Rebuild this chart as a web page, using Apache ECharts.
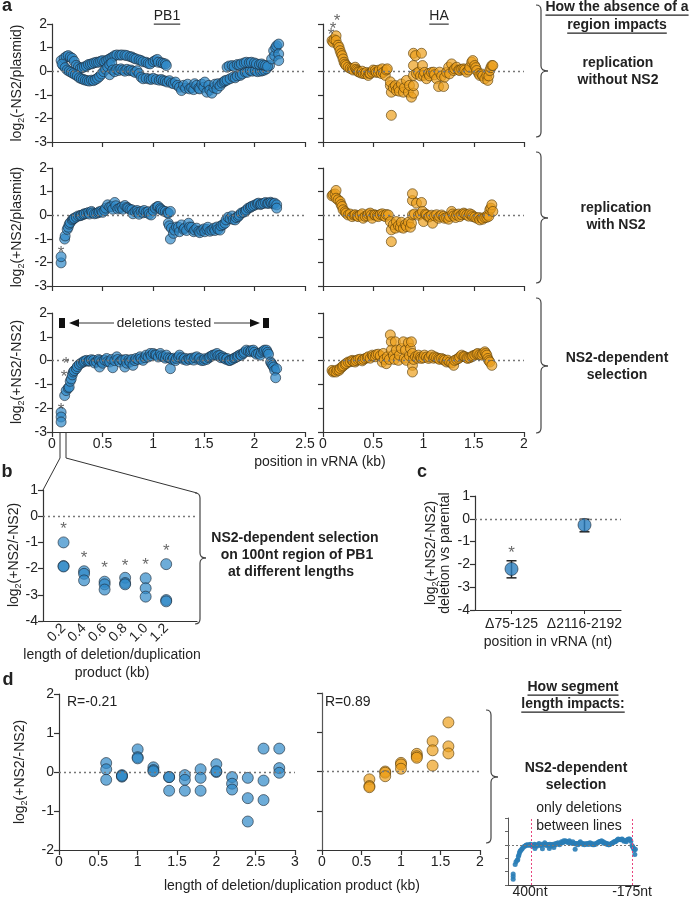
<!DOCTYPE html>
<html><head><meta charset="utf-8">
<script src="https://cdn.jsdelivr.net/npm/echarts@6/dist/echarts.min.js"></script>
<style>html,body{margin:0;padding:0;background:#fff}#c{width:689px;height:899px}</style>
</head><body><div id="c"></div>
<script>
// ---------------- DATA ----------------
// Panel a: position in vRNA (kb) vs log2 ratio
const pb1NoNS2 = [[0.09,0.45],[0.11,0.24],[0.12,0.55],[0.14,0.62],[0.16,0.66],[0.18,0.6],[0.2,0.55],[0.22,0.42],[0.24,0.25],[0.26,0.18],[0.28,0.12],[0.3,0.15],[0.32,0.18],[0.34,0.22],[0.36,0.28],[0.38,0.3],[0.4,0.32],[0.42,0.36],[0.44,0.38],[0.46,0.38],[0.48,0.42],[0.5,0.45],[0.52,0.4],[0.54,0.45],[0.56,0.5],[0.58,0.55],[0.6,0.6],[0.62,0.66],[0.64,0.69],[0.67,0.68],[0.69,0.69],[0.72,0.68],[0.74,0.66],[0.77,0.62],[0.79,0.6],[0.81,0.55],[0.83,0.52],[0.86,0.48],[0.88,0.45],[0.9,0.4],[0.93,0.38],[0.95,0.33],[0.97,0.31],[1.0,0.4],[1.02,0.45],[1.04,0.5],[1.05,0.38],[1.08,0.36],[1.1,0.33],[1.12,0.31],[1.13,0.24],
[0.1,0.3],[0.13,0.15],[0.15,0.05],[0.17,0.0],[0.19,-0.05],[0.21,-0.1],[0.23,-0.15],[0.25,-0.2],[0.27,-0.28],[0.29,-0.32],[0.31,-0.35],[0.33,-0.38],[0.35,-0.4],[0.37,-0.42],[0.39,-0.38],[0.41,-0.4],[0.43,-0.35],[0.45,-0.3],[0.47,-0.22],[0.49,-0.12],[0.51,-0.02],[0.53,0.08],[0.55,0.18],[0.57,0.28],[0.59,0.35],[0.57,-0.15],[0.6,0.05],[0.62,-0.02],[0.64,0.08],[0.66,0.03],[0.68,0.1],[0.7,0.05],[0.72,0.0],[0.74,0.08],[0.76,0.02],[0.78,0.05],[0.8,0.0],[0.82,-0.05],[0.84,0.02],[0.86,-0.1],[0.88,-0.25],[0.9,-0.32],[0.93,-0.3],[0.96,-0.33],[0.98,-0.35],[1.0,-0.3],[1.03,-0.35],[1.06,-0.38],[1.08,-0.35],[1.1,-0.4],[1.12,-0.42],[1.14,-0.46],
[1.16,-0.4],[1.18,-0.5],[1.2,-0.53],[1.22,-0.46],[1.24,-0.6],[1.26,-0.68],[1.28,-0.82],[1.3,-0.6],[1.32,-0.72],[1.34,-0.55],[1.36,-0.75],[1.38,-0.7],[1.4,-0.78],[1.41,-0.53],[1.43,-0.6],[1.45,-0.72],[1.46,-0.75],[1.48,-0.55],[1.5,-0.68],[1.51,-0.46],[1.53,-0.89],[1.55,-0.6],[1.56,-0.8],[1.58,-0.93],[1.6,-0.7],[1.61,-0.55],[1.63,-0.75],[1.64,-0.53],[1.66,-0.62],[1.68,-0.5],[1.7,-0.45],[1.71,-0.4],[1.73,-0.38],[1.76,-0.32],[1.79,-0.25],[1.81,-0.28],[1.83,-0.2],[1.86,-0.18],[1.88,-0.12],[1.91,-0.04],[1.93,-0.05],[1.96,0.03],[1.98,0.0],[2.01,0.02],[2.03,-0.02],[2.06,0.0],[2.08,0.02],[2.1,0.05],[2.12,0.1],[2.15,0.24],
[1.73,0.17],[1.75,0.22],[1.78,0.24],[1.8,0.2],[1.83,0.28],[1.85,0.26],[1.87,0.31],[1.9,0.35],[1.92,0.38],[1.95,0.36],[1.97,0.38],[2.0,0.35],[2.02,0.31],[2.05,0.28],[2.07,0.31],[2.09,0.26],[2.11,0.24],[2.13,0.2],
[2.17,0.52],[2.19,0.87],[2.2,0.66],[2.21,1.0],[2.22,1.08],[2.24,1.15],[2.24,0.73],[2.24,0.45]];

const haNoNS2 = [[0.09,1.3],[0.1,1.23],[0.11,1.35],[0.13,1.5],[0.13,1.3],[0.15,1.1],[0.16,1.01],[0.17,0.87],[0.18,0.75],[0.19,0.66],[0.2,0.52],[0.21,0.38],[0.22,0.3],[0.23,0.24],[0.25,0.17],[0.27,0.12],[0.29,0.1],[0.3,0.05],[0.32,0.17],[0.33,0.08],[0.34,0.03],[0.35,-0.02],[0.36,-0.04],[0.38,-0.08],[0.39,0.0],[0.4,-0.1],[0.42,-0.11],[0.43,-0.05],[0.45,-0.18],[0.46,-0.08],[0.47,-0.1],[0.49,-0.04],[0.5,0.05],[0.52,0.03],[0.53,-0.05],[0.55,-0.04],[0.56,0.05],[0.58,-0.1],[0.59,0.1],[0.6,-0.05],[0.62,-0.18],[0.63,0.05],[0.64,0.1],[0.67,-0.61],[0.67,-0.45],[0.68,-0.89],[0.68,-1.87],[0.7,-0.7],[0.72,-0.61],[0.73,-0.82],[0.75,-0.7],[0.76,-0.85],[0.78,-0.54],[0.8,-0.89],[0.81,-0.7],[0.83,-0.39],[0.85,-0.89],[0.86,-0.6],[0.88,-1.1],[0.9,-0.93],[0.9,-0.61],[0.9,-0.18],[0.9,0.24],[0.9,0.76],[0.92,0.66],[0.93,-0.1],[0.95,-0.04],[0.97,-0.2],[0.98,0.76],[0.99,0.24],[1.0,-0.18],[1.01,-0.05],[1.03,-0.32],[1.05,-0.1],[1.06,-0.2],[1.08,-0.05],[1.1,-0.04],[1.11,-0.15],[1.13,-0.32],[1.15,-0.65],[1.16,-0.04],[1.18,-0.2],[1.2,-0.65],[1.21,-0.25],[1.23,-0.05],[1.25,0.17],[1.26,-0.11],[1.28,0.31],[1.3,0.03],[1.31,0.1],[1.33,0.17],[1.35,0.05],[1.36,0.03],[1.38,0.08],[1.4,0.1],[1.41,0.05],[1.43,-0.04],[1.45,0.05],[1.46,0.17],[1.48,0.38],[1.49,0.45],[1.51,0.24],[1.52,0.15],[1.53,0.03],[1.55,-0.1],[1.56,-0.18],[1.58,-0.12],[1.59,-0.2],[1.61,-0.32],[1.63,-0.18],[1.64,-0.39],[1.65,-0.2],[1.66,0.03],[1.67,0.15],[1.68,0.24],[1.69,0.24]];

const pb1WithNS2 = [[0.09,-2.02],[0.09,-1.76],[0.125,-1.01],[0.13,-0.88],[0.15,-0.6],[0.16,-0.51],[0.17,-0.38],[0.18,-0.31],[0.2,-0.2],[0.21,-0.16],[0.22,-0.13],[0.24,-0.08],[0.26,-0.03],[0.28,-0.02],[0.29,0.0],[0.31,0.03],[0.32,0.06],[0.34,0.08],[0.36,0.11],[0.37,0.05],[0.39,0.16],[0.4,0.1],[0.42,0.06],[0.44,0.08],[0.46,0.11],[0.47,0.15],[0.49,0.18],[0.5,0.12],[0.52,0.2],[0.53,0.3],[0.55,0.44],[0.57,0.35],[0.59,0.37],[0.6,0.25],[0.62,0.54],[0.63,0.4],[0.65,0.26],[0.67,0.3],[0.69,0.35],[0.7,0.25],[0.72,0.41],[0.74,0.33],[0.75,0.3],[0.77,0.25],[0.79,0.23],[0.8,0.06],[0.82,0.16],[0.84,0.2],[0.85,0.12],[0.86,0.04],[0.88,0.16],[0.9,0.1],[0.91,0.2],[0.93,0.12],[0.95,0.15],[0.96,0.05],[0.98,0.01],[1.0,0.2],[1.02,0.3],[1.04,0.36],[1.05,0.37],[1.07,0.28],[1.08,0.23],[1.1,0.18],[1.12,0.16],[1.14,0.1],[1.15,0.09],[1.17,0.16],
[1.15,-0.34],[1.16,-0.45],[1.17,-1.01],[1.18,-0.55],[1.2,-0.77],[1.21,-0.63],[1.23,-0.5],[1.25,-0.51],[1.26,-0.7],[1.28,-0.41],[1.3,-0.6],[1.31,-0.55],[1.33,-0.65],[1.35,-0.34],[1.36,-0.5],[1.38,-0.51],[1.4,-0.7],[1.41,-0.63],[1.43,-0.55],[1.45,-0.68],[1.46,-0.74],[1.48,-0.65],[1.5,-0.58],[1.51,-0.7],[1.53,-0.6],[1.54,-0.51],[1.56,-0.68],[1.58,-0.63],[1.6,-0.55],[1.61,-0.65],[1.63,-0.5],[1.64,-0.6],[1.66,-0.63],[1.67,-0.45],[1.69,-0.4],[1.71,-0.34],[1.72,-0.2],[1.74,-0.09],[1.76,-0.15],[1.78,-0.03],[1.79,-0.18],[1.81,-0.2],[1.82,-0.1],[1.84,-0.06],[1.85,0.0],[1.87,0.09],[1.89,0.12],[1.91,0.16],[1.92,0.22],[1.94,0.3],[1.96,0.33],[1.97,0.37],[1.99,0.4],[2.01,0.44],[2.03,0.48],[2.04,0.51],[2.06,0.45],[2.07,0.48],[2.09,0.5],[2.11,0.54],[2.13,0.5],[2.14,0.51],[2.16,0.55],[2.17,0.51],[2.19,0.48],[2.2,0.51],[2.22,0.44],[2.22,0.3]];

const haWithNS2 = [[0.09,0.82],[0.1,0.87],[0.12,0.9],[0.13,1.05],[0.13,0.72],[0.15,0.65],[0.17,0.58],[0.18,0.45],[0.19,0.37],[0.2,0.23],[0.22,0.15],[0.23,0.09],[0.25,0.01],[0.27,0.05],[0.29,-0.06],[0.31,0.0],[0.32,0.02],[0.34,-0.03],[0.35,-0.06],[0.37,0.0],[0.39,0.06],[0.4,-0.13],[0.42,-0.05],[0.44,-0.03],[0.45,0.05],[0.47,0.09],[0.48,0.0],[0.49,-0.13],[0.51,0.02],[0.52,0.0],[0.54,-0.02],[0.55,-0.06],[0.57,0.03],[0.59,0.06],[0.6,-0.02],[0.62,-0.06],[0.63,0.03],[0.65,0.01],[0.67,-0.27],[0.68,-0.62],[0.68,-1.12],[0.7,-0.4],[0.72,-0.55],[0.73,-0.27],[0.75,-0.45],[0.77,-0.51],[0.78,-0.3],[0.8,-0.55],[0.82,-0.4],[0.83,-0.48],[0.85,-0.3],[0.87,-0.51],[0.88,-0.34],[0.89,0.01],[0.89,0.62],[0.89,0.91],[0.91,0.05],[0.93,0.51],[0.95,0.0],[0.97,0.05],[0.98,0.54],[0.99,0.16],[1.0,-0.27],[1.02,0.05],[1.03,0.01],[1.05,-0.08],[1.06,-0.06],[1.08,0.0],[1.09,-0.34],[1.11,-0.03],[1.13,0.02],[1.15,-0.13],[1.16,-0.05],[1.18,0.01],[1.2,-0.05],[1.21,-0.13],[1.23,-0.1],[1.25,-0.17],[1.26,-0.05],[1.28,0.16],[1.29,0.05],[1.3,-0.03],[1.32,-0.1],[1.33,0.01],[1.35,0.05],[1.36,-0.06],[1.38,0.02],[1.4,0.09],[1.41,0.05],[1.43,0.01],[1.45,-0.04],[1.46,0.06],[1.48,0.02],[1.49,-0.06],[1.51,-0.08],[1.53,-0.13],[1.55,-0.1],[1.56,-0.2],[1.58,-0.12],[1.59,-0.17],[1.61,-0.1],[1.63,-0.09],[1.64,0.01],[1.65,-0.05],[1.66,0.23],[1.67,0.3],[1.68,0.44],[1.69,0.16]];

const pb1Sel = [[0.09,-2.17],[0.09,-2.37],[0.09,-2.58],[0.125,-1.47],[0.14,-1.26],[0.16,-1.15],[0.17,-1.12],[0.18,-0.87],[0.19,-0.77],[0.2,-0.6],[0.21,-0.48],[0.22,-0.42],[0.24,-0.34],[0.25,-0.25],[0.27,-0.16],[0.29,-0.1],[0.31,-0.06],[0.32,-0.02],[0.34,0.01],[0.36,-0.03],[0.37,-0.01],[0.39,0.04],[0.41,0.01],[0.42,-0.1],[0.44,-0.06],[0.46,0.05],[0.47,0.0],[0.47,-0.27],[0.49,-0.05],[0.5,-0.11],[0.52,0.02],[0.54,0.09],[0.55,-0.04],[0.57,-0.06],[0.59,0.05],[0.6,-0.3],[0.62,0.0],[0.64,0.16],[0.65,0.05],[0.67,-0.06],[0.69,0.03],[0.7,0.01],[0.72,-0.27],[0.73,0.05],[0.74,-0.11],[0.76,0.02],[0.77,-0.06],[0.79,0.05],[0.8,-0.2],[0.82,0.0],[0.83,0.09],[0.85,0.05],[0.87,0.16],[0.88,0.08],[0.9,0.01],[0.92,0.12],[0.93,0.23],[0.95,0.15],[0.97,0.3],[0.98,0.2],[1.0,0.3],[1.02,0.25],[1.03,0.23],[1.05,0.15],[1.07,0.3],[1.08,0.2],[1.1,0.16],[1.12,0.1],[1.13,0.23],[1.15,0.12],[1.17,-0.34],[1.17,0.09],[1.19,0.05],[1.2,0.1],[1.22,0.0],[1.23,0.09],[1.25,0.15],[1.26,0.23],[1.28,0.12],[1.3,0.05],[1.31,0.1],[1.33,0.01],[1.35,0.08],[1.36,0.05],[1.38,0.1],[1.4,0.02],[1.41,0.12],[1.43,0.16],[1.45,0.05],[1.46,0.1],[1.48,0.0],[1.5,0.01],[1.51,0.08],[1.53,0.05],[1.55,0.12],[1.56,0.16],[1.58,0.2],[1.59,0.23],[1.61,0.25],[1.63,0.3],[1.64,0.2],[1.66,0.22],[1.67,0.12],[1.69,0.16],[1.7,0.1],[1.72,0.05],[1.73,0.09],[1.75,0.0],[1.76,0.01],[1.78,0.05],[1.8,0.1],[1.81,0.12],[1.83,0.16],[1.84,0.2],[1.86,0.25],[1.87,0.22],[1.89,0.3],[1.9,0.35],[1.92,0.44],[1.94,0.4],[1.96,0.37],[1.97,0.42],[1.99,0.44],[2.0,0.35],[2.02,0.27],[2.04,0.3],[2.06,0.23],[2.07,0.35],[2.09,0.4],[2.1,0.44],[2.12,0.44],[2.13,0.35],[2.14,0.27],[2.16,-0.06],[2.17,-0.13],[2.18,-0.2],[2.19,-0.27],[2.2,-0.41],[2.22,-0.34],[2.21,-0.72]];

const haSel = [[0.09,-0.41],[0.1,-0.48],[0.11,-0.45],[0.13,-0.48],[0.14,-0.4],[0.16,-0.41],[0.17,-0.33],[0.19,-0.27],[0.2,-0.22],[0.22,-0.16],[0.23,-0.12],[0.25,-0.06],[0.27,-0.05],[0.29,0.01],[0.3,-0.03],[0.32,-0.06],[0.33,0.0],[0.35,0.04],[0.37,0.06],[0.39,-0.01],[0.4,0.05],[0.42,0.09],[0.44,0.12],[0.45,0.16],[0.47,0.1],[0.49,0.23],[0.5,0.18],[0.52,0.16],[0.53,0.25],[0.55,0.27],[0.57,0.2],[0.59,-0.06],[0.6,0.3],[0.61,0.05],[0.63,-0.13],[0.64,0.16],[0.66,0.05],[0.67,1.08],[0.68,0.79],[0.68,0.44],[0.7,0.23],[0.71,0.05],[0.72,0.79],[0.73,0.44],[0.75,0.01],[0.76,0.23],[0.78,0.51],[0.8,0.79],[0.81,0.1],[0.82,0.44],[0.83,0.01],[0.85,0.75],[0.86,0.2],[0.87,0.51],[0.88,0.79],[0.89,0.3],[0.89,-0.2],[0.89,-0.48],[0.9,0.05],[0.92,0.16],[0.94,0.1],[0.95,0.23],[0.97,0.15],[0.98,0.09],[1.0,0.12],[1.01,0.23],[1.03,0.15],[1.05,0.09],[1.06,0.15],[1.08,0.23],[1.1,0.1],[1.11,0.16],[1.13,0.12],[1.15,0.09],[1.16,0.05],[1.18,0.09],[1.2,0.05],[1.21,0.01],[1.23,-0.06],[1.24,0.02],[1.26,-0.06],[1.28,-0.1],[1.3,-0.2],[1.31,0.01],[1.33,0.05],[1.35,0.09],[1.36,0.15],[1.38,0.23],[1.4,0.18],[1.41,0.16],[1.43,0.12],[1.44,0.09],[1.46,0.12],[1.48,0.16],[1.49,0.2],[1.51,0.23],[1.53,0.27],[1.54,0.3],[1.56,0.25],[1.58,0.23],[1.59,0.3],[1.61,0.37],[1.62,0.3],[1.63,0.23],[1.64,0.09],[1.65,0.0],[1.66,-0.06],[1.68,-0.2]];

// significance stars (x kb, y position)
const starsHaNoNS2 = [[0.08,1.7],[0.1,1.95],[0.14,2.3]];
const starsPb1WithNS2 = [[0.09,-1.45]];
const starsPb1Sel = [[0.09,-1.9],[0.12,-0.52],[0.14,0.0]];

// Panel b: length of deletion/duplication product (kb)
const bLengths = [0.2, 0.4, 0.6, 0.8, 1.0, 1.2];
const bValues = [[-1.0,-1.9,-1.92],[-2.1,-2.2,-2.45],[-2.5,-2.6,-2.8],[-2.35,-2.55,-2.6],[-2.37,-2.75,-3.07],[-1.83,-3.2,-3.25]];
const bStars = [-0.34,-1.45,-1.82,-1.76,-1.72,-1.18];

// Panel c
const cCats = ['\u039475-125', '\u03942116-2192'];
const cMean = [-2.2, -0.27];
const cLow = [-2.59, -0.57];
const cHigh = [-1.84, -0.02];
const cStars = [-1.36, null];

// Panel d
const dPB1 = [[0.6,0.23],[0.6,0.07],[0.6,-0.2],[0.8,-0.08],[0.8,-0.12],[0.8,-0.1],[1.0,0.58],[1.0,0.38],[1.0,0.35],[1.2,0.12],[1.2,0.05],[1.2,0.02],[1.4,-0.13],[1.4,-0.13],[1.4,-0.48],[1.6,-0.08],[1.6,-0.2],[1.6,-0.48],[1.8,0.07],[1.8,-0.15],[1.8,-0.48],[2.0,0.2],[2.0,0.0],[2.0,0.02],[2.2,-0.13],[2.2,-0.3],[2.2,-0.45],[2.4,-0.15],[2.4,-0.67],[2.4,-1.27],[2.6,0.6],[2.6,-0.22],[2.6,-0.72],[2.8,0.6],[2.8,0.1],[2.8,-0.02]];
const dHA = [[0.6,-0.2],[0.6,-0.37],[0.6,-0.4],[0.8,0.0],[0.8,-0.03],[0.8,-0.12],[1.0,0.22],[1.0,0.18],[1.0,0.07],[1.2,0.45],[1.2,0.39],[1.2,0.35],[1.4,0.77],[1.4,0.54],[1.4,0.15],[1.6,1.25],[1.6,0.64],[1.6,0.46]];
const dR = ['R=-0.21', 'R=0.89'];

// inset boundaries (kb)
const insetBounds = [0.4, 2.166];
const insetLabels = ['400nt', '-175nt'];

// ---------------- STYLE / BUILD ----------------
const FONT = '"Liberation Sans", Arial, Helvetica, sans-serif';
const BLUE = 'rgba(47,137,199,0.88)', BLUE_B = '#1d2b38';
const ORANGE = 'rgba(236,160,28,0.88)', ORANGE_B = '#5a3d08';
const AX = '#333';

function vAxis(gi, min, max, interval, showLabel, extra) {
  return Object.assign({
    type: 'value', gridIndex: gi, min, max, interval,
    axisLine: { show: true, onZero: false, lineStyle: { color: AX, width: 1.2 } },
    axisTick: { show: true, length: 5, lineStyle: { color: AX, width: 1.2 } },
    axisLabel: { show: showLabel, color: '#222', fontSize: 14, fontFamily: FONT, margin: 5 },
    splitLine: { show: false }
  }, extra || {});
}
const zeroLine = { silent: true, symbol: 'none', label: { show: false }, animation: false,
  lineStyle: { type: [2, 3], color: '#777', width: 1.3 }, data: [{ yAxis: 0 }] };

function sc(data, gi, fill, border, size, withZero) {
  const s = { type: 'scatter', xAxisIndex: gi, yAxisIndex: gi, data, symbolSize: size,
    itemStyle: { color: fill, borderColor: border, borderWidth: 0.8 }, z: 3, silent: true };
  if (withZero) s.markLine = zeroLine;
  return s;
}
function stars(data, gi, size) {
  return { type: 'scatter', xAxisIndex: gi, yAxisIndex: gi, data, symbolSize: 1, clip: false,
    itemStyle: { color: 'rgba(0,0,0,0)' }, silent: true, z: 6,
    label: { show: true, position: 'inside', formatter: '*', fontSize: size || 17, color: '#444', fontFamily: FONT, offset: [0, 4] } };
}

const grids = [
  { left: 52, top: 24, width: 253, height: 118 },
  { left: 323, top: 24, width: 201, height: 118 },
  { left: 52, top: 168, width: 253, height: 118 },
  { left: 323, top: 168, width: 201, height: 118 },
  { left: 52, top: 313, width: 253, height: 119 },
  { left: 323, top: 313, width: 201, height: 119 },
  { left: 43, top: 490, width: 154, height: 131 },
  { left: 475, top: 496, width: 146, height: 114 },
  { left: 59, top: 694, width: 236, height: 156 },
  { left: 322, top: 693, width: 158, height: 157 },
  { left: 508, top: 818, width: 132, height: 67 }
];

const xAxes = [
  vAxis(0, 0, 2.5, 0.5, false), vAxis(1, 0, 2, 0.5, false),
  vAxis(2, 0, 2.5, 0.5, false), vAxis(3, 0, 2, 0.5, false),
  vAxis(4, 0, 2.5, 0.5, true), vAxis(5, 0, 2, 0.5, true),
  vAxis(6, 0, 1.5, 0.2, true, { axisTick: { show: false },
    axisLabel: { show: true, rotate: 45, color: '#222', fontSize: 14, fontFamily: FONT, margin: 5,
      formatter: v => (v > 0.05 && v < 1.3) ? v.toFixed(1) : '' } }),
  { type: 'category', gridIndex: 7, data: cCats, boundaryGap: true,
    axisLine: { show: true, onZero: false, lineStyle: { color: AX, width: 1.2 } },
    axisTick: { show: true, alignWithLabel: true, length: 4, lineStyle: { color: AX } },
    axisLabel: { color: '#222', fontSize: 14, fontFamily: FONT, margin: 7, interval: 0 } },
  vAxis(8, 0, 3, 0.5, true), vAxis(9, 0, 2, 0.5, true),
  vAxis(10, 0, 2.3, 0.5, false, { axisTick: { show: false }, axisLine: { show: true, onZero: false, lineStyle: { color: '#444', width: 1 } } })
];
const yAxes = [
  vAxis(0, -3, 2, 1, true), vAxis(1, -3, 2, 1, false),
  vAxis(2, -3, 2, 1, true), vAxis(3, -3, 2, 1, false),
  vAxis(4, -3, 2, 1, true), vAxis(5, -3, 2, 1, false),
  vAxis(6, -4, 1, 1, true),
  vAxis(7, -4, 1, 1, true),
  vAxis(8, -2, 2, 1, true), vAxis(9, -2, 2, 1, false, { axisLine: { show: true, onZero: false, lineStyle: { color: '#555', width: 1.2 } } }),
  vAxis(10, -3, 2, 1, false, { axisTick: { show: true, length: 3, lineStyle: { color: '#666' } }, axisLine: { show: true, onZero: false, lineStyle: { color: '#555', width: 1 } } })
];

const bPoints = [];
bLengths.forEach((L, i) => bValues[i].forEach(v => bPoints.push([L, v])));
const bStarPts = bLengths.map((L, i) => [L, bStars[i]]);

const series = [
  sc(pb1NoNS2, 0, BLUE, BLUE_B, 10, true),
  sc(haNoNS2, 1, ORANGE, ORANGE_B, 10, true),
  sc(pb1WithNS2, 2, BLUE, BLUE_B, 10, true),
  sc(haWithNS2, 3, ORANGE, ORANGE_B, 10, true),
  sc(pb1Sel, 4, BLUE, BLUE_B, 10, true),
  sc(haSel, 5, ORANGE, ORANGE_B, 10, true),
  stars(starsHaNoNS2, 1), stars(starsPb1WithNS2, 2), stars(starsPb1Sel, 4),
  sc(bPoints, 6, BLUE, BLUE_B, 11, true),
  stars(bStarPts, 6),
  { type: 'custom', xAxisIndex: 7, yAxisIndex: 7, silent: true, z: 2,
    data: cCats.map((c, i) => [i, cLow[i], cHigh[i]]),
    encode: { x: 0, y: [1, 2] },
    renderItem: (params, api) => {
      const a = api.coord([api.value(0), api.value(1)]);
      const b = api.coord([api.value(0), api.value(2)]);
      const w = 5, st = { stroke: '#222', lineWidth: 1.5 };
      return { type: 'group', children: [
        { type: 'line', shape: { x1: a[0], y1: a[1], x2: b[0], y2: b[1] }, style: st },
        { type: 'line', shape: { x1: a[0] - w, y1: a[1], x2: a[0] + w, y2: a[1] }, style: st },
        { type: 'line', shape: { x1: b[0] - w, y1: b[1], x2: b[0] + w, y2: b[1] }, style: st }
      ] };
    } },
  Object.assign(sc(cMean.map((v, i) => [i, v]), 7, '#2b7fc0', BLUE_B, 13, true), { z: 4 }),
  stars(cStars.map((v, i) => [i, v]).filter(p => p[1] != null), 7),
  sc(dPB1, 8, BLUE, BLUE_B, 11, true),
  sc(dHA, 9, ORANGE, ORANGE_B, 11, true),
  { type: 'scatter', xAxisIndex: 10, yAxisIndex: 10, data: pb1Sel, symbolSize: 5, silent: true,
    itemStyle: { color: '#2a7db6', opacity: 0.9 },
    markLine: { silent: true, symbol: 'none', label: { show: false }, animation: false,
      data: [
        { yAxis: 0, lineStyle: { type: [2, 2], color: '#777', width: 1 } },
        { xAxis: insetBounds[0], lineStyle: { type: [2, 2], color: '#e8457e', width: 1 } },
        { xAxis: insetBounds[1], lineStyle: { type: [2, 2], color: '#e8457e', width: 1 } }
      ] } }
];

// ---------------- GRAPHICS (text & annotations) ----------------
const mctx = document.createElement('canvas').getContext('2d');
function mw(t, font) { mctx.font = font; return mctx.measureText(t).width; }
const G = [];
function txt(t, x, y, o) {
  o = o || {};
  const size = o.size || 14, weight = o.bold ? 'bold' : 'normal';
  const align = o.align || 'center';
  G.push({ type: 'text', x, y, rotation: o.rot || 0, silent: true, z: 10,
    style: { text: t, fill: o.fill || '#222', fontSize: size, fontWeight: weight, fontFamily: FONT,
      align, textAlign: align, verticalAlign: 'middle', textVerticalAlign: 'middle',
      lineHeight: o.lh || size * 1.2 } });
  if (o.under) {
    const w = mw(t, weight + ' ' + size + 'px ' + FONT);
    const x0 = align === 'center' ? x - w / 2 : x;
    G.push({ type: 'line', silent: true, z: 10, shape: { x1: x0, y1: y + size * 0.58, x2: x0 + w, y2: y + size * 0.58 },
      style: { stroke: '#222', lineWidth: 1.1 } });
  }
}
function logName(rest, x, y) {
  G.push({ type: 'text', x, y, rotation: Math.PI / 2, silent: true, z: 10,
    style: { text: '{a|log}{s|2}{a|' + rest + '}', align: 'center', textAlign: 'center', verticalAlign: 'middle', textVerticalAlign: 'middle',
      rich: { a: { fontSize: 14, fontFamily: FONT, fill: '#222', lineHeight: 18 },
              s: { fontSize: 9, fontFamily: FONT, fill: '#222', verticalAlign: 'bottom', lineHeight: 10 } } } });
}
function bez(x1, y1, cx, cy, x2, y2) {
  G.push({ type: 'bezierCurve', silent: true, z: 10, shape: { x1, y1, x2, y2, cpx1: cx, cpy1: cy },
    style: { stroke: '#444', lineWidth: 1.2, fill: null } });
}
function seg(x1, y1, x2, y2, col, w) {
  G.push({ type: 'line', silent: true, z: 10, shape: { x1, y1, x2, y2 }, style: { stroke: col || '#444', lineWidth: w || 1.2 } });
}
function brace(x, y1, y2, ym, w) {
  bez(x - 5, y1, x, y1, x, y1 + 5);
  seg(x, y1 + 5, x, ym - 5);
  bez(x, ym - 5, x, ym, x + w, ym);
  bez(x + w, ym, x, ym, x, ym + 5);
  seg(x, ym + 5, x, y2 - 5);
  bez(x, y2 - 5, x, y2, x - 5, y2);
}
function pline(pts, w) {
  G.push({ type: 'polyline', silent: true, z: 10, shape: { points: pts }, style: { stroke: '#333', lineWidth: w || 1, fill: null } });
}

// panel a
txt('a', 7, 6, { size: 18, bold: true });
txt('PB1', 167, 16, { under: true });
txt('HA', 439, 16, { under: true });
txt('How the absence of a', 617, 7, { bold: true, under: true });
txt('region impacts', 617, 25, { bold: true, under: true });
txt('replication', 618, 63, { bold: true });
txt('without NS2', 618, 80, { bold: true });
txt('replication', 616, 208, { bold: true });
txt('with NS2', 616, 225, { bold: true });
txt('NS2-dependent', 617, 358, { bold: true });
txt('selection', 617, 375, { bold: true });
brace(541, 5, 137, 71, 7);
brace(541, 152, 283, 218, 7);
brace(541, 298, 433, 366, 7);
logName('(-NS2/plasmid)', 17, 83);
logName('(+NS2/plasmid)', 17, 227);
logName('(+NS2/-NS2)', 17, 372);
// deletions tested annotation
G.push({ type: 'rect', silent: true, z: 10, shape: { x: 59, y: 318, width: 6, height: 10 }, style: { fill: '#111' } });
G.push({ type: 'rect', silent: true, z: 10, shape: { x: 263, y: 318, width: 6, height: 10 }, style: { fill: '#111' } });
pline([[76, 323], [114, 323]]);
pline([[214, 323], [252, 323]]);
G.push({ type: 'polygon', silent: true, z: 10, shape: { points: [[69, 323], [79, 319], [79, 327]] }, style: { fill: '#111' } });
G.push({ type: 'polygon', silent: true, z: 10, shape: { points: [[260, 323], [250, 319], [250, 327]] }, style: { fill: '#111' } });
txt('deletions tested', 164, 323, { size: 13.5 });
txt('position in vRNA (kb)', 320, 462);
// zoom connectors
pline([[60, 433], [60, 458], [43, 490]]);
pline([[66, 433], [66, 458], [197, 493]]);

// panel b
txt('b', 7, 472, { size: 18, bold: true });
logName('(+NS2/-NS2)', 14, 555);
brace(200, 493, 624, 558, 6);
txt('NS2-dependent selection', 295, 538, { bold: true });
txt('on 100nt region of PB1', 297, 555, { bold: true });
txt('at different lengths', 291, 572, { bold: true });
txt('length of deletion/duplication', 112, 655);
txt('product (kb)', 112, 673);

// panel c
txt('c', 422, 472, { size: 18, bold: true });
G.push({ type: 'text', x: 431, y: 553, rotation: Math.PI / 2, silent: true, z: 10,
  style: { text: '{a|log}{s|2}{a|(+NS2/-NS2)}', align: 'center', textAlign: 'center', verticalAlign: 'middle', textVerticalAlign: 'middle',
    rich: { a: { fontSize: 14, fontFamily: FONT, fill: '#222', lineHeight: 18 }, s: { fontSize: 9, fontFamily: FONT, fill: '#222', verticalAlign: 'bottom', lineHeight: 10 } } } });
G.push({ type: 'text', x: 445, y: 553, rotation: Math.PI / 2, silent: true, z: 10,
  style: { text: 'deletion vs parental', fill: '#222', fontSize: 14, fontFamily: FONT, align: 'center', textAlign: 'center', verticalAlign: 'middle', textVerticalAlign: 'middle' } });
txt('position in vRNA (nt)', 548, 642);

// panel d
txt('d', 8, 680, { size: 18, bold: true });
txt(dR[0], 67, 702, { align: 'left' });
txt(dR[1], 325, 702, { align: 'left' });
logName('(+NS2/-NS2)', 20, 772);
txt('length of deletion/duplication product (kb)', 292, 886);
brace(491, 710, 843, 777, 7);
txt('How segment', 573, 687, { bold: true, under: true });
txt('length impacts:', 573, 704, { bold: true, under: true });
txt('NS2-dependent', 576, 768, { bold: true });
txt('selection', 576, 785, { bold: true });
txt('only deletions', 579, 808);
txt('between lines', 579, 826);
txt(insetLabels[0], 530, 892);
txt(insetLabels[1], 632, 892);

const chart = echarts.init(document.getElementById('c'), null, { renderer: 'canvas' });
chart.setOption({
  animation: false,
  backgroundColor: '#fff',
  grid: grids,
  xAxis: xAxes,
  yAxis: yAxes,
  series,
  graphic: { elements: G }
});
</script></body></html>
